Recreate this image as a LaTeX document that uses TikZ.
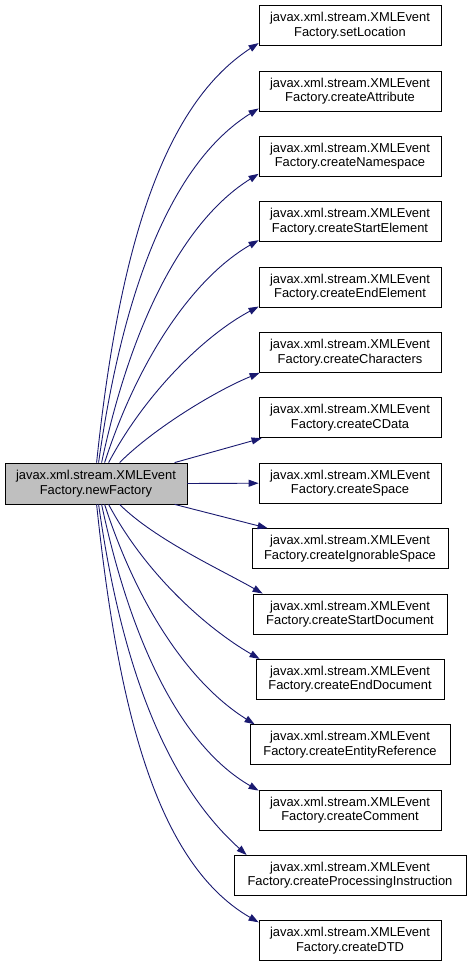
\documentclass[tikz,border=0pt]{standalone}
\usepackage{fontspec}
\setmainfont{Liberation Sans}
\usetikzlibrary{arrows.meta,calc}
\definecolor{edgeblue}{HTML}{191970}
\definecolor{mainfill}{RGB}{191,191,191}
\begin{document}
\begin{tikzpicture}[x=1pt,y=1pt,
  fn/.style={draw=black, line width=0.8pt, fill=white, minimum height=40pt,
    inner sep=0pt, align=center, font=\fontsize{12.9}{14.5}\selectfont},
  edge/.style={draw=edgeblue, line width=0.9pt, -{Triangle[length=10pt,width=7pt]}}]
\useasboundingbox (0,0) rectangle (471,967);
\node[fn, fill=mainfill, minimum width=182pt, minimum height=41pt] (L) at (96,483.5)
  {javax.xml.stream.XMLEvent\\Factory.newFactory};
\foreach \i/\w/\t in {0/182/setLocation, 1/182/createAttribute, 2/182/createNamespace,
  3/182/createStartElement, 4/182/createEndElement, 5/182/createCharacters,
  6/182/createCData, 7/182/createSpace, 8/196/createIgnorableSpace,
  9/194/createStartDocument, 10/188/createEndDocument, 11/200/createEntityReference,
  12/182/createComment, 13/232/createProcessingInstruction, 14/182/createDTD}
  \node[fn, minimum width=\w pt] (n\i) at (350,{967-25.7-65.36*\i})
    {javax.xml.stream.XMLEvent\\Factory.\t};
% upper edges
\foreach \i/\sx/\a/\ka/\b/\kb/\ex/\ey in {0/92/84/200/213/120/0/3, 1/94/82/170/212/105/0/3,
  2/97/78/140/212/90/0/3, 3/100/72/110/210/75/0/2, 4/104/62/80/208/60/0/1,
  5/115/45/50/202/45/1/0}
  \draw[edge] ($(L.north west)+(\sx,0)$) .. controls +(\a:\ka) and +(\b:\kb) .. ($(n\i.south west)+(\ex,\ey)$);
\draw[edge] ($(L.north west)+(170,0)$) -- ($(n6.south west)+(3,0)$);
\draw[edge] (L.east) -- (n7.west);
\draw[edge] ($(L.south west)+(170,0)$) -- ($(n8.north west)+(16,0)$);
% lower edges
\foreach \i/\sx/\a/\ka/\b/\kb/\ex/\ey in {9/115/-45/50/150/45/10/0, 10/104/-62/80/150/60/4/0,
  11/100/-72/110/148/75/5/0, 12/97/-78/140/150/90/0/-1, 13/94/-82/170/138/105/13/0,
  14/92/-84/200/150/120/0/-2}
  \draw[edge] ($(L.south west)+(\sx,0)$) .. controls +(\a:\ka) and +(\b:\kb) .. ($(n\i.north west)+(\ex,\ey)$);
\end{tikzpicture}
\end{document}
